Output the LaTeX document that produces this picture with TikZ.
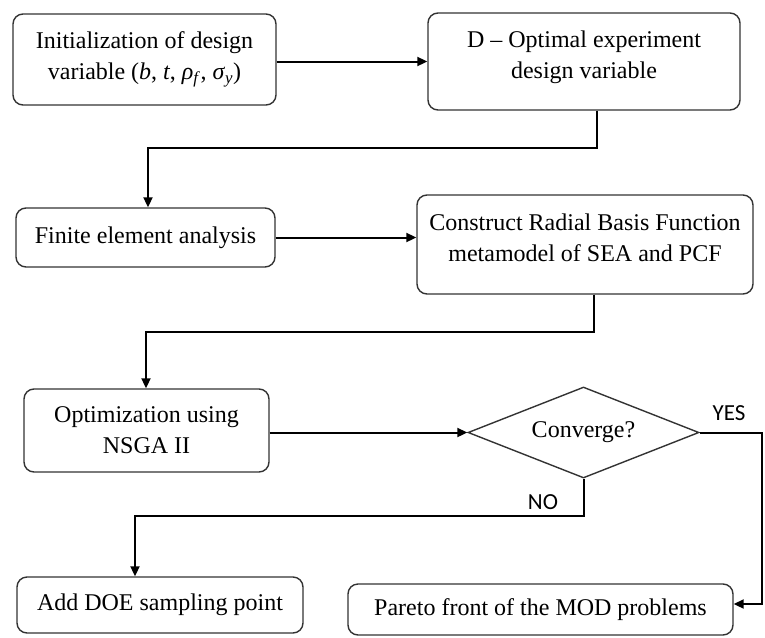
\documentclass[tikz,border=0pt]{standalone}
\usepackage{fontspec}
\setmainfont{Liberation Serif}
\newfontfamily\tagfont{Carlito}
\usetikzlibrary{shapes.geometric,arrows.meta}
\begin{document}
\begin{tikzpicture}[x=1pt,y=-1pt,
    box/.style={draw=black!80,line width=1.4pt,rounded corners=10pt,align=center,
        inner sep=0pt,font=\fontsize{24}{31}\selectfont},
    decision/.style={draw=black!80,line width=1.4pt,diamond,aspect=2.54,inner sep=0pt,
        font=\fontsize{24}{31}\selectfont},
    flow/.style={line width=2pt,-{Triangle[length=10pt,width=9pt]}},
    tag/.style={font=\tagfont\fontsize{23}{26}\selectfont}]
    \useasboundingbox (0,0) rectangle (765,637);
    \node[box,minimum width=263,minimum height=91] (init) at (144.5,59.5)
        {Initialization of design\\variable (\textit{b}, \textit{t}, \textit{ρ}\textsubscript{\textit{f}}, \textit{σ}\textsubscript{\textit{y}})};
    \node[box,minimum width=312,minimum height=97,text depth=13pt] (opt) at (584,61.5)
        {D – Optimal experiment\\design variable};
    \node[box,minimum width=259,minimum height=59] (fea) at (145.5,237.5)
        {Finite element analysis};
    \node[box,minimum width=336,minimum height=99,text depth=13pt] (rbf) at (585,244.5)
        {Construct Radial Basis Function\\metamodel of SEA and PCF};
    \node[box,minimum width=245,minimum height=83] (nsga) at (146.5,430.5)
        {Optimization using\\NSGA II};
    \node[decision,minimum width=231,minimum height=91] (conv) at (583.5,432.5)
        {Converge?};
    \node[box,minimum width=286,minimum height=56] (doe) at (160,605)
        {Add DOE sampling point};
    \node[box,minimum width=385,minimum height=51] (pareto) at (540.5,609.5)
        {Pareto front of the MOD problems};
    \node[tag] (yes) at (729,413) {YES};
    \node[tag] (no) at (543,502) {NO};
    \coordinate (bend1) at (148,148);
    \coordinate (bend2) at (146,332);
    \coordinate (bend3) at (135,516);
    \coordinate (yesend) at (762,604);
    \draw[flow] (opt.west -| init.east) -- (opt.west);
    \draw[flow] ([xshift=13pt]opt.south) |- (bend1) -- (bend1 |- fea.north);
    \draw[flow] (fea.east) -- (fea.east -| rbf.west);
    \draw[flow] ([xshift=9pt]rbf.south) |- (bend2) -- (bend2 |- nsga.north);
    \draw[flow] (conv.west -| nsga.east) -- (conv.west);
    \draw[flow] (conv.south) |- (bend3) -- (bend3 |- doe.north);
    \draw[flow] (conv.east) -| (yesend) -- (yesend -| pareto.east);
\end{tikzpicture}
\end{document}
